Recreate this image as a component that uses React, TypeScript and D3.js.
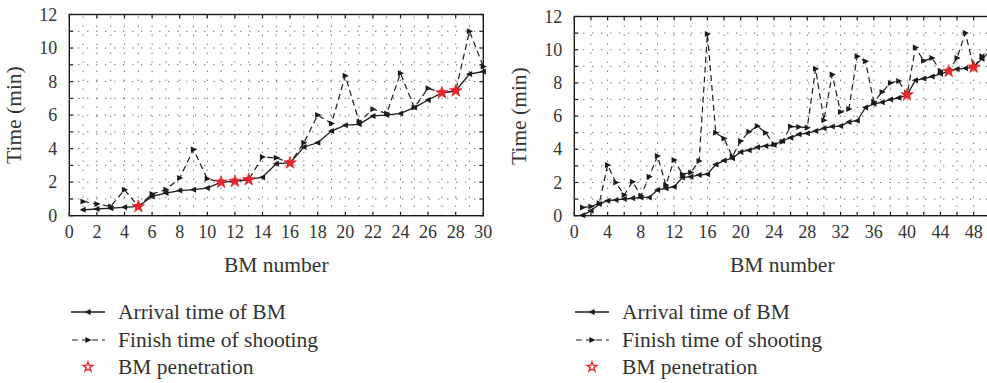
import React from 'react';
import * as d3 from 'd3';

// ---------- Data ----------
const bmLeft = [1, 2, 3, 4, 5, 6, 7, 8, 9, 10, 11, 12, 13, 14, 15, 16, 17, 18, 19, 20, 21, 22, 23, 24, 25, 26, 27, 28, 29, 30];
const arrivalLeft = [0.35, 0.4, 0.45, 0.5, 0.55, 1.15, 1.35, 1.5, 1.55, 1.65, 2.0, 2.05, 2.15, 2.3, 3.1, 3.15, 4.1, 4.35, 5.05, 5.4, 5.45, 5.95, 6.0, 6.1, 6.45, 6.9, 7.33, 7.45, 8.45, 8.6];
const finishLeft = [0.85, 0.7, 0.55, 1.55, 0.55, 1.3, 1.55, 2.25, 3.95, 2.2, 2.0, 2.05, 2.15, 3.5, 3.45, 3.15, 4.35, 6.0, 5.5, 8.35, 5.6, 6.35, 6.1, 8.5, 6.45, 7.6, 7.33, 7.45, 11.0, 8.9];
const penetrationLeft = [5, 11, 12, 13, 16, 27, 28];

const bmRight = [1, 2, 3, 4, 5, 6, 7, 8, 9, 10, 11, 12, 13, 14, 15, 16, 17, 18, 19, 20, 21, 22, 23, 24, 25, 26, 27, 28, 29, 30, 31, 32, 33, 34, 35, 36, 37, 38, 39, 40, 41, 42, 43, 44, 45, 46, 47, 48, 49, 50];
const arrivalRight = [0.02, 0.3, 0.7, 0.9, 0.95, 1.0, 1.05, 1.1, 1.1, 1.55, 1.65, 1.75, 2.3, 2.35, 2.45, 2.5, 3.08, 3.32, 3.46, 3.84, 3.95, 4.12, 4.2, 4.26, 4.5, 4.7, 4.9, 4.97, 5.1, 5.27, 5.37, 5.4, 5.65, 5.72, 6.52, 6.74, 6.83, 7.0, 7.1, 7.28, 8.16, 8.26, 8.38, 8.55, 8.7, 8.83, 8.88, 8.95, 9.46, 9.9];
const finishRight = [0.5, 0.55, 0.75, 3.05, 2.0, 1.25, 2.05, 1.2, 2.35, 3.6, 1.85, 3.35, 2.5, 2.6, 3.3, 10.95, 5.0, 4.65, 3.56, 4.5, 5.05, 5.4, 5.0, 4.3, 4.46, 5.37, 5.35, 5.3, 8.85, 5.75, 8.5, 6.25, 6.43, 9.6, 9.3, 6.85, 7.45, 8.0, 8.12, 7.28, 10.13, 9.33, 9.5, 8.72, 8.7, 9.5, 11.0, 8.95, 9.6, 10.15];
const penetrationRight = [40, 45, 48];

const yTicks = [0, 1, 2, 3, 4, 5, 6, 7, 8, 9, 10, 11, 12];
const yTickLabels = [0, 2, 4, 6, 8, 10, 12];
const xTicksLeft = [0, 2, 4, 6, 8, 10, 12, 14, 16, 18, 20, 22, 24, 26, 28, 30];
const xGridLeft = [1, 2, 3, 4, 5, 6, 7, 8, 9, 10, 11, 12, 13, 14, 15, 16, 17, 18, 19, 20, 21, 22, 23, 24, 25, 26, 27, 28, 29];
const xTicksRight = [0, 2, 4, 6, 8, 10, 12, 14, 16, 18, 20, 22, 24, 26, 28, 30, 32, 34, 36, 38, 40, 42, 44, 46, 48, 50];
const xLabelsRight = [0, 4, 8, 12, 16, 20, 24, 28, 32, 36, 40, 44, 48];

const legendLabels = ['Arrival time of BM', 'Finish time of shooting', 'BM penetration'];

const FONT = '"Liberation Serif", "Times New Roman", serif';
const INK = '#1c1c1c';
const RED = '#e8262b';

const triLeft = 'M-3.6,0L2.6,-3L2.6,3Z';
const triRight = 'M3.6,0L-2.6,-3L-2.6,3Z';

type ChartProps = {
  left: number; right: number; top: number; bottom: number; xMax: number;
  bm: number[]; arrival: number[]; finish: number[]; pen: number[];
  xTicks: number[]; xLabels: number[]; xGrid: number[];
  legendX: number;
};

function Chart(p: ChartProps) {
  const x = d3.scaleLinear().domain([0, p.xMax]).range([p.left, p.right]);
  const y = d3.scaleLinear().domain([0, 12]).range([p.bottom, p.top]);
  const line = d3.line<number>().x((_, i) => x(p.bm[i])).y((d) => y(d));
  const star = d3.symbol().type(d3.symbolStar).size(48)();
  const starLeg = d3.symbol().type(d3.symbolStar).size(30)();
  const tl = 4;
  const clipId = `clip${p.left}`;
  const legY = [312, 340, 367];
  const lx = p.legendX;
  return (
    <g>
      <defs>
        <clipPath id={clipId}>
          <rect x={p.left - 8} y={p.top - 8} width={p.right - p.left + 16} height={p.bottom - p.top + 16} />
        </clipPath>
      </defs>
      {/* grid */}
      <g stroke="#333" strokeWidth={1} strokeDasharray="1 8" fill="none">
        {yTicks.filter((t) => t > 0 && t < 12).map((t) => (
          <line key={'h' + t} x1={p.left} x2={p.right} y1={y(t)} y2={y(t)} />
        ))}
        {p.xGrid.filter((t) => t > 0 && t < p.xMax).map((t) => (
          <line key={'v' + t} x1={x(t)} x2={x(t)} y1={p.bottom} y2={p.top} />
        ))}
      </g>
      {/* ticks */}
      <g stroke={INK} strokeWidth={1.2}>
        {p.xTicks.map((t) => (
          <g key={'xt' + t}>
            <line x1={x(t)} x2={x(t)} y1={p.bottom} y2={p.bottom - tl} />
            <line x1={x(t)} x2={x(t)} y1={p.top} y2={p.top + tl} />
          </g>
        ))}
        {yTicks.map((t) => (
          <g key={'yt' + t}>
            <line x1={p.left} x2={p.left + tl} y1={y(t)} y2={y(t)} />
            <line x1={p.right} x2={p.right - tl} y1={y(t)} y2={y(t)} />
          </g>
        ))}
      </g>
      {/* box */}
      <rect x={p.left} y={p.top} width={p.right - p.left} height={p.bottom - p.top} fill="none" stroke={INK} strokeWidth={1.4} />
      {/* tick labels */}
      <g fontFamily={FONT} fontSize={18} fill="#333">
        {p.xLabels.map((t) => (
          <text key={'xl' + t} x={x(t)} y={p.bottom + 22} textAnchor="middle">{t}</text>
        ))}
        {yTickLabels.map((t) => (
          <text key={'yl' + t} x={p.left - 12} y={y(t) + 6} textAnchor="end">{t}</text>
        ))}
      </g>
      <text x={(p.left + p.right) / 2} y={272} textAnchor="middle" fontFamily={FONT} fontSize={21.5} fill="#333">BM number</text>
      <text transform={`translate(${p.left - 48},${(p.top + p.bottom) / 2}) rotate(-90)`} textAnchor="middle" fontFamily={FONT} fontSize={21.5} fill="#333">Time (min)</text>
      {/* series */}
      <g clipPath={`url(#${clipId})`}>
        <path d={line(p.finish) || ''} fill="none" stroke={INK} strokeWidth={1.2} strokeDasharray="6 4" />
        <path d={line(p.arrival) || ''} fill="none" stroke={INK} strokeWidth={1.3} />
        {p.finish.map((v, i) => (
          <path key={'f' + i} d={triRight} transform={`translate(${x(p.bm[i])},${y(v)})`} fill={INK} />
        ))}
        {p.arrival.map((v, i) => (
          <path key={'a' + i} d={triLeft} transform={`translate(${x(p.bm[i])},${y(v)})`} fill={INK} />
        ))}
        {p.pen.map((b) => (
          <path key={'s' + b} d={star || ''} transform={`translate(${x(b)},${y(p.arrival[p.bm.indexOf(b)])})`} fill={RED} stroke={RED} strokeWidth={0.8} />
        ))}
      </g>
      {/* legend */}
      <g>
        <line x1={lx} x2={lx + 34} y1={legY[0]} y2={legY[0]} stroke={INK} strokeWidth={1.3} />
        <path d={triLeft} transform={`translate(${lx + 17},${legY[0]})`} fill={INK} />
        <line x1={lx} x2={lx + 34} y1={legY[1]} y2={legY[1]} stroke={INK} strokeWidth={1.2} strokeDasharray="6 4" strokeDashoffset={-1} />
        <path d={triRight} transform={`translate(${lx + 17},${legY[1]})`} fill={INK} />
        <path d={starLeg || ''} transform={`translate(${lx + 17},${legY[2]})`} fill="none" stroke={RED} strokeWidth={1.3} />
        {legendLabels.map((s, i) => (
          <text key={s} x={lx + 47} y={legY[i] + 7} fontFamily={FONT} fontSize={21.5} fill="#333">{s}</text>
        ))}
      </g>
    </g>
  );
}

export default function App() {
  return (
    <svg width={987} height={383} style={{ position: 'absolute', left: 0, top: 0, background: '#fff' }}>
      <rect width={987} height={383} fill="#fff" />
      <Chart left={69.3} right={483.3} top={14.5} bottom={215.7} xMax={30}
        bm={bmLeft} arrival={arrivalLeft} finish={finishLeft} pen={penetrationLeft}
        xTicks={xTicksLeft} xLabels={xTicksLeft} xGrid={xGridLeft} legendX={71} />
      <Chart left={574.3} right={990.3} top={16.5} bottom={215.7} xMax={50}
        bm={bmRight} arrival={arrivalRight} finish={finishRight} pen={penetrationRight}
        xTicks={xTicksRight} xLabels={xLabelsRight} xGrid={xTicksRight} legendX={575} />
    </svg>
  );
}
